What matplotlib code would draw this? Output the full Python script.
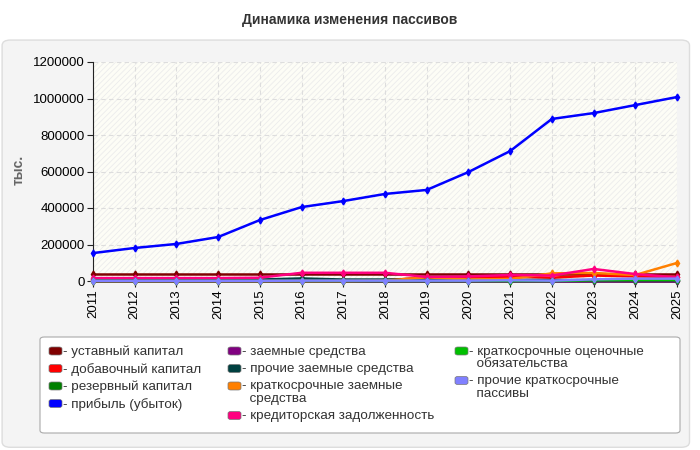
import matplotlib
matplotlib.use("Agg")
import matplotlib.pyplot as plt
from matplotlib.patches import FancyBboxPatch, Rectangle

plt.rcParams["font.family"] = ["Liberation Sans", "DejaVu Sans"]
plt.rcParams["hatch.linewidth"] = 0.6

years = list(range(2011, 2026))

ustavny = [38000] * 15
dobavochny = [3000, 3000, 3000, 3000, 3000, 3000, 3000, 3000, 20000, 20000, 24000, 18000, 30000, 25000, 22000]
rezervny = [2000] * 15
pribyl = [153000, 181000, 203000, 241000, 334000, 405000, 438000, 477000, 499000, 597000,
          712000, 888000, 920000, 964000, 1008000]
zaemnye = [0] * 15
prochie_zaemnye = [10000, 5000, 5000, 5000, 8000, 14000, 8000, 8000, 12000, 6000, 6000, 5000, 5000, 5000, 5000]
kratk_zaemnye = [0, 0, 0, 0, 0, 0, 0, 2000, 20000, 8000, 11000, 42000, 44000, 33000, 99000]
kreditorskaya = [16000, 16000, 16000, 16000, 18000, 45000, 45000, 45000, 22000, 25000, 33000, 30000, 66000, 38000, 20000]
ocenochnye = [0, 0, 0, 0, 0, 0, 0, 0, 0, 0, 0, 0, 4000, 5000, 5000]
prochie_kratk = [1000, 1000, 1000, 1000, 1000, 2000, 2000, 2000, 2000, 2000, 4000, 2000, 9000, 13000, 13000]

series = [
    ("- уставный капитал", ustavny, "#800000"),
    ("- добавочный капитал", dobavochny, "#ff0000"),
    ("- резервный капитал", rezervny, "#008000"),
    ("- прибыль (убыток)", pribyl, "#0000ff"),
    ("- заемные средства", zaemnye, "#800080"),
    ("- прочие заемные средства", prochie_zaemnye, "#004040"),
    ("- краткосрочные заемные\n  средства", kratk_zaemnye, "#ff8000"),
    ("- кредиторская задолженность", kreditorskaya, "#ff0080"),
    ("- краткосрочные оценочные\n  обязательства", ocenochnye, "#00c000"),
    ("- прочие краткосрочные\n  пассивы", prochie_kratk, "#8080ff"),
]
# legend columns as in the original: 4 / 4 / 2 entries
legend_cols = [(49, series[0:4]), (228, series[4:8]), (455, series[8:10])]

W, H = 700, 450
fig = plt.figure(figsize=(7, 4.5), dpi=100)


def fx(px):
    return px / W


def fy(py):
    return 1 - py / H


# grey rounded panel behind everything
panel = FancyBboxPatch((0.003, 0.006), 0.982, 0.905, boxstyle="round,pad=0,rounding_size=0.012",
                       transform=fig.transFigure, facecolor="#f4f4f4", edgecolor="#dddddd",
                       linewidth=1, zorder=-10)
fig.patches.append(panel)

fig.text(0.5, fy(20), "Динамика изменения пассивов", ha="center", va="center",
         fontsize=10, fontweight="bold", color="#333333")

ax = fig.add_axes([fx(93), fy(281), fx(584), 219 / H])
ax.set_facecolor("#fdfdf6")
ax.add_patch(Rectangle((0, 0), 1, 1, transform=ax.transAxes, facecolor="none",
                       edgecolor="#ececec", hatch="//////", linewidth=0, zorder=0))

for label, vals, color in series:
    ax.plot(years, vals, color=color, linewidth=1.8, marker="d", markersize=3.5,
            clip_on=False, zorder=3)

ax.set_xlim(2011, 2025)
ax.set_ylim(0, 1200000)
ax.set_xticks(years)
ax.set_xticklabels([str(y) for y in years], rotation=90, fontsize=9.5)
ax.set_yticks(range(0, 1200001, 200000))
ax.set_yticklabels([str(v) for v in range(0, 1200001, 200000)], fontsize=9.5)
ax.grid(True, color="#dddddd", linestyle=(0, (4, 3)), linewidth=0.8)
ax.set_axisbelow(True)
for side in ("top", "right"):
    ax.spines[side].set_visible(False)
ax.spines["left"].set_color("#222222")
ax.spines["bottom"].set_color("#222222")
ax.tick_params(length=4, color="#222222", pad=2)
fig.text(fx(19), fy(170), "тыс.", rotation=90, ha="center", va="center",
         fontsize=10, fontweight="bold", color="#666666")

# legend: white rounded box, entries laid out by hand in three columns
box = FancyBboxPatch((fx(40), fy(433)), fx(640), 96 / H,
                     boxstyle="round,pad=0,rounding_size=0.006", transform=fig.transFigure,
                     facecolor="white", edgecolor="#aaaaaa", linewidth=0.8, zorder=-5)
fig.patches.append(box)

for x0, items in legend_cols:
    y = 351
    for label, _, color in items:
        sw = FancyBboxPatch((fx(x0), fy(y + 4)), fx(13), 8 / H,
                            boxstyle="round,pad=0,rounding_size=0.004", transform=fig.transFigure,
                            facecolor=color, edgecolor="#777777", linewidth=0.5)
        fig.patches.append(sw)
        fig.text(fx(x0 + 14), fy(y - 5.5), label, ha="left", va="top", fontsize=9.7,
                 color="#333333", linespacing=1.1)
        y += 17.5 + 12 * label.count("\n")

fig.savefig("out.png", dpi=100)
